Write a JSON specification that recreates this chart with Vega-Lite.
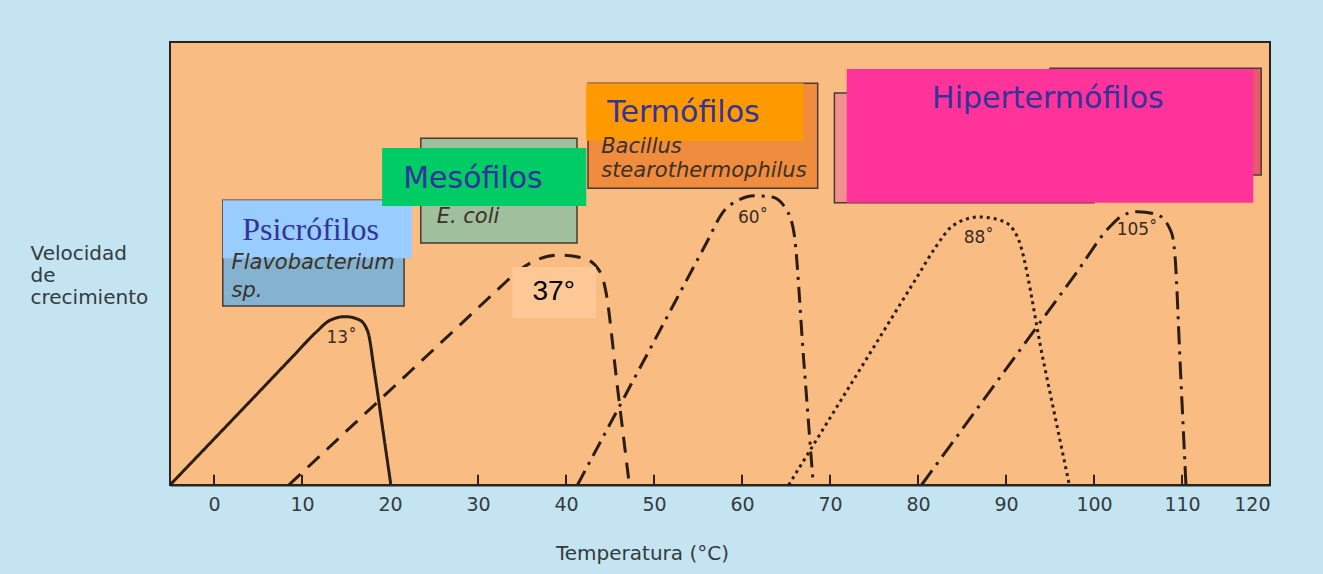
{
  "$schema": "https://vega.github.io/schema/vega-lite/v6.json",
  "width": 1100,
  "height": 443,
  "autosize": {"type": "none"},
  "padding": {"left": 170, "top": 42, "right": 53, "bottom": 89},
  "background": "#c3e4f0",
  "config": {
    "view": {"fill": "#f9bd84", "stroke": "#2a2520", "strokeWidth": 2},
    "font": "DejaVu Sans"
  },
  "datasets": {
    "orgBoxes": [
      {"name": "Flavobacterium", "x1": 1.0, "x2": 21.6, "y1": 40.4, "y2": 64.3},
      {"name": "E. coli", "x1": 23.5, "x2": 41.25, "y1": 54.6, "y2": 78.3},
      {"name": "Bacillus", "x1": 42.5, "x2": 68.6, "y1": 67.0, "y2": 90.7},
      {"name": "HiperB", "x1": 95.0, "x2": 119.0, "y1": 70.0, "y2": 94.1},
      {"name": "HiperA", "x1": 70.5, "x2": 100.0, "y1": 63.7, "y2": 88.5}
    ],
    "catBoxes": [
      {"name": "Psicrófilos", "x1": 1.0, "x2": 22.5, "y1": 51.2, "y2": 64.3},
      {"name": "Mesófilos", "x1": 19.1, "x2": 42.3, "y1": 63.0, "y2": 76.1},
      {"name": "Termófilos", "x1": 42.3, "x2": 67.0, "y1": 77.7, "y2": 90.7},
      {"name": "Hipertermófilos", "x1": 71.9, "x2": 118.1, "y1": 63.7, "y2": 93.9},
      {"name": "37", "x1": 33.9, "x2": 43.4, "y1": 37.7, "y2": 49.2}
    ],
    "ticks": [
      {"t": 0}, {"t": 10}, {"t": 20}, {"t": 30}, {"t": 40}, {"t": 50}, {"t": 60},
      {"t": 70}, {"t": 80}, {"t": 90}, {"t": 100}, {"t": 110}, {"t": 120}
    ],
    "curves": [
      {"series": "13", "t": -5, "v": 0},
      {"series": "13", "t": 3, "v": 16.6},
      {"series": "13", "t": 9, "v": 29.1},
      {"series": "13", "t": 11.6, "v": 34.5},
      {"series": "13", "t": 13.2, "v": 37.2},
      {"series": "13", "t": 14.9, "v": 38.0},
      {"series": "13", "t": 16.5, "v": 37.3},
      {"series": "13", "t": 17.5, "v": 34.5},
      {"series": "13", "t": 18.2, "v": 26},
      {"series": "13", "t": 19.15, "v": 13},
      {"series": "13", "t": 20.1, "v": 0},
      {"series": "37", "t": 8.5, "v": 0},
      {"series": "37", "t": 18, "v": 17.65},
      {"series": "37", "t": 28.2, "v": 36.6},
      {"series": "37", "t": 32.5, "v": 44.6},
      {"series": "37", "t": 34.7, "v": 48.5},
      {"series": "37", "t": 36.9, "v": 51.0},
      {"series": "37", "t": 39.2, "v": 51.9},
      {"series": "37", "t": 42.0, "v": 51.2},
      {"series": "37", "t": 43.75, "v": 48.5},
      {"series": "37", "t": 44.5, "v": 44.0},
      {"series": "37", "t": 45.85, "v": 22.0},
      {"series": "37", "t": 47.2, "v": 0},
      {"series": "60", "t": 41.3, "v": 0},
      {"series": "60", "t": 50, "v": 32.4},
      {"series": "60", "t": 56, "v": 54.8},
      {"series": "60", "t": 57.8, "v": 61.5},
      {"series": "60", "t": 59.6, "v": 64.3},
      {"series": "60", "t": 61.4, "v": 65.3},
      {"series": "60", "t": 63.4, "v": 65.0},
      {"series": "60", "t": 65.0, "v": 62.3},
      {"series": "60", "t": 65.9, "v": 57},
      {"series": "60", "t": 67.0, "v": 28.5},
      {"series": "60", "t": 68.1, "v": 0},
      {"series": "88", "t": 65.3, "v": 0},
      {"series": "88", "t": 74, "v": 28},
      {"series": "88", "t": 80, "v": 47.3},
      {"series": "88", "t": 82.0, "v": 53.7},
      {"series": "88", "t": 84.0, "v": 58.6},
      {"series": "88", "t": 86.9, "v": 60.5},
      {"series": "88", "t": 89.6, "v": 59.6},
      {"series": "88", "t": 91.3, "v": 56.0},
      {"series": "88", "t": 94.25, "v": 28},
      {"series": "88", "t": 97.2, "v": 0},
      {"series": "105", "t": 80.4, "v": 0},
      {"series": "105", "t": 90, "v": 26.15},
      {"series": "105", "t": 98, "v": 47.9},
      {"series": "105", "t": 101.8, "v": 58.3},
      {"series": "105", "t": 103.4, "v": 61.0},
      {"series": "105", "t": 105.0, "v": 61.7},
      {"series": "105", "t": 107.2, "v": 61.0},
      {"series": "105", "t": 108.8, "v": 57.0},
      {"series": "105", "t": 109.2, "v": 51.8},
      {"series": "105", "t": 109.825, "v": 25.9},
      {"series": "105", "t": 110.45, "v": 0}
    ],
    "catTexts": [
      {"label": "Mesófilos", "x": 21.5, "y": 67.0},
      {"label": "Termófilos", "x": 44.7, "y": 81.9},
      {"label": "Hipertermófilos", "x": 81.6, "y": 85.1}
    ],
    "psiText": [
      {"label": "Psicrófilos", "x": 3.2, "y": 55.3}
    ],
    "orgTexts": [
      {"label": "Flavobacterium", "x": 2.0, "y": 48.8},
      {"label": "sp.", "x": 2.0, "y": 42.4},
      {"label": "E. coli", "x": 25.3, "y": 59.1},
      {"label": "Bacillus", "x": 44.0, "y": 74.9},
      {"label": "stearothermophilus", "x": 44.0, "y": 69.5}
    ],
    "peakTexts": [
      {"label": "13˚", "x": 14.5, "y": 33.2},
      {"label": "60˚", "x": 61.25, "y": 60.3},
      {"label": "88˚", "x": 86.9, "y": 55.7},
      {"label": "105˚", "x": 104.9, "y": 57.6}
    ],
    "bigPeak": [
      {"label": "37°", "x": 38.6, "y": 43.6}
    ]
  },
  "layer": [
    {
      "data": {"name": "orgBoxes"},
      "mark": {"type": "rect", "stroke": "#4a3b30", "strokeWidth": 1.5},
      "encoding": {
        "x": {"field": "x1", "type": "quantitative"},
        "x2": {"field": "x2"},
        "y": {"field": "y1", "type": "quantitative"},
        "y2": {"field": "y2"},
        "fill": {
          "field": "name", "type": "nominal", "legend": null,
          "scale": {
            "domain": ["Flavobacterium", "E. coli", "Bacillus", "HiperB", "HiperA", "Psicrófilos", "Mesófilos", "Termófilos", "Hipertermófilos", "37"],
            "range": ["#84b3d2", "#a0bf9d", "#f08c3e", "#e85a6a", "#f09090", "#99ccff", "#00cc66", "#ff9900", "#ff3399", "#fdc896"]
          }
        }
      }
    },
    {
      "data": {"name": "curves"},
      "mark": {"type": "line", "interpolate": "monotone", "strokeWidth": 3, "color": "#2b1d14"},
      "encoding": {
        "x": {
          "field": "t", "type": "quantitative",
          "scale": {"domain": [-5, 120], "nice": false, "zero": false},
          "axis": {
            "values": [0, 10, 20, 30, 40, 50, 60, 70, 80, 90, 100, 110, 120],
            "title": "Temperatura (°C)",
            "titleX": 472, "titleY": 74, "titleBaseline": "alphabetic", "titleAlign": "center",
            "titleFont": "DejaVu Sans", "titleFontSize": 20, "titleFontWeight": "normal", "titleColor": "#333b40",
            "labelFont": "DejaVu Sans", "labelFontSize": 19, "labelColor": "#333b40", "labelPadding": 10,
            "ticks": false,
            "domainColor": "#2a2520", "domainWidth": 2, "grid": false
          }
        },
        "y": {
          "field": "v", "type": "quantitative",
          "scale": {"domain": [0, 100], "nice": false},
          "axis": {
            "title": ["Velocidad", "de", "crecimiento"],
            "domain": false, "ticks": false, "labels": false, "grid": false,
            "titleAngle": 0, "titleAlign": "left", "titleBaseline": "top",
            "titleX": -140, "titleY": 201, "titleLineHeight": 22,
            "titleFontSize": 20, "titleFontWeight": "normal", "titleColor": "#333b40",
            "titleFont": "DejaVu Sans"
          }
        },
        "strokeDash": {
          "field": "series", "type": "nominal", "legend": null,
          "scale": {
            "domain": ["13", "37", "60", "88", "105"],
            "range": [[1, 0], [16, 10], [16, 7, 3, 7], [3, 4], [18, 7, 3, 7]]
          }
        }
      }
    },
    {
      "data": {"name": "ticks"},
      "mark": {"type": "rule", "strokeWidth": 2, "color": "#2a2520"},
      "encoding": {
        "x": {"field": "t", "type": "quantitative"},
        "y": {"datum": 0},
        "y2": {"datum": 2.3}
      }
    },
    {
      "data": {"name": "catBoxes"},
      "mark": {"type": "rect"},
      "encoding": {
        "x": {"field": "x1", "type": "quantitative"},
        "x2": {"field": "x2"},
        "y": {"field": "y1", "type": "quantitative"},
        "y2": {"field": "y2"},
        "fill": {"field": "name", "type": "nominal", "legend": null}
      }
    },
    {
      "data": {"name": "catTexts"},
      "mark": {"type": "text", "font": "DejaVu Sans", "fontSize": 30, "color": "#333399", "align": "left", "baseline": "alphabetic"},
      "encoding": {
        "x": {"field": "x", "type": "quantitative"},
        "y": {"field": "y", "type": "quantitative"},
        "text": {"field": "label"}
      }
    },
    {
      "data": {"name": "psiText"},
      "mark": {"type": "text", "font": "Liberation Serif", "fontSize": 32, "color": "#333399", "align": "left", "baseline": "alphabetic"},
      "encoding": {
        "x": {"field": "x", "type": "quantitative"},
        "y": {"field": "y", "type": "quantitative"},
        "text": {"field": "label"}
      }
    },
    {
      "data": {"name": "orgTexts"},
      "mark": {"type": "text", "font": "DejaVu Sans", "fontStyle": "oblique", "fontSize": 21, "color": "#3b3128", "align": "left", "baseline": "alphabetic"},
      "encoding": {
        "x": {"field": "x", "type": "quantitative"},
        "y": {"field": "y", "type": "quantitative"},
        "text": {"field": "label"}
      }
    },
    {
      "data": {"name": "peakTexts"},
      "mark": {"type": "text", "font": "DejaVu Sans", "fontSize": 17, "color": "#3a2a20", "align": "center", "baseline": "middle"},
      "encoding": {
        "x": {"field": "x", "type": "quantitative"},
        "y": {"field": "y", "type": "quantitative"},
        "text": {"field": "label"}
      }
    },
    {
      "data": {"name": "bigPeak"},
      "mark": {"type": "text", "font": "Liberation Sans", "fontSize": 28, "color": "#000000", "align": "center", "baseline": "middle"},
      "encoding": {
        "x": {"field": "x", "type": "quantitative"},
        "y": {"field": "y", "type": "quantitative"},
        "text": {"field": "label"}
      }
    }
  ]
}
